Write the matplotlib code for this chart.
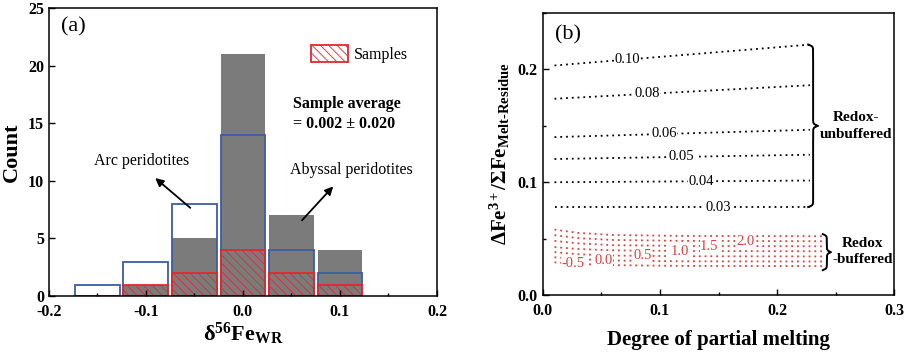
import matplotlib
matplotlib.use('Agg')
import matplotlib.pyplot as plt
import numpy as np
from matplotlib.patches import Patch
from matplotlib.ticker import MultipleLocator

plt.rcParams['font.family'] = ['Liberation Serif', 'DejaVu Serif']
plt.rcParams['mathtext.fontset'] = 'custom'
plt.rcParams['mathtext.rm'] = 'Liberation Serif'
plt.rcParams['mathtext.bf'] = 'Liberation Serif:bold'
plt.rcParams['mathtext.it'] = 'Liberation Serif:italic'
plt.rcParams['hatch.linewidth'] = 0.6

# ---- panel (a): histogram counts per bin centre ----
bin_centres = [-0.15, -0.10, -0.05, 0.0, 0.05, 0.10]
abyssal_counts = [0, 1, 5, 21, 7, 4]
arc_counts = [1, 3, 8, 14, 4, 2]
sample_counts = [0, 1, 2, 4, 2, 1]

# ---- panel (b): model curves ----
melt_x = [0.01, 0.228]
unbuf_labels = ['0.10', '0.08', '0.06', '0.05', '0.04', '0.03']
unbuf_start = [0.2035, 0.174, 0.140, 0.1206, 0.100, 0.078]
unbuf_end = [0.222, 0.186, 0.1465, 0.1244, 0.1015, 0.078]
unbuf_label_x = [0.072, 0.089, 0.1035, 0.1186, 0.135, 0.150]

buf_x = [0.01, 0.03, 0.06, 0.12, 0.24]
buf_labels = ['-0.5', '0.0', '0.5', '1.0', '1.5', '2.0', '']
buf_curves = [
    [0.0290, 0.0275, 0.0265, 0.0258, 0.0256],
    [0.0335, 0.0318, 0.0306, 0.0299, 0.0297],
    [0.0380, 0.0362, 0.0350, 0.0344, 0.0342],
    [0.0425, 0.0408, 0.0396, 0.0390, 0.0388],
    [0.0480, 0.0458, 0.0442, 0.0435, 0.0432],
    [0.0530, 0.0505, 0.0488, 0.0480, 0.0477],
    [0.0580, 0.0551, 0.0532, 0.0524, 0.0521],
]
buf_label_x = [0.026, 0.052, 0.085, 0.117, 0.142, 0.173, None]

GREY = '#7b7b7b'
BLUE = '#3b5ca6'
RED = '#e2282c'
BUF_RED = '#d9403c'


def draw_brace(ax, x0, y0, y1, width, ylim_span):
    """Draw a vertical curly brace opening to the left."""
    n = 401
    ys = np.linspace(y0, y1, n)
    half = ys[:n // 2 + 1]
    beta = 1300.0 * 0.25 / ylim_span
    off = (1 / (1 + np.exp(-beta * (half - half[0])))
           + 1 / (1 + np.exp(-beta * (half - half[-1]))))
    xs = np.concatenate((off, off[-2::-1])) - 0.5
    ax.plot(x0 + width * xs, ys, color='black', lw=1.4, clip_on=False)


def style_axes(ax):
    ax.tick_params(which='both', direction='in', top=False, right=False,
                   labelsize=11.5)
    ax.tick_params(which='major', length=4, width=1)
    ax.tick_params(which='minor', length=2.5, width=1)
    ax.tick_params(axis='x', pad=6)
    for label in ax.get_xticklabels() + ax.get_yticklabels():
        label.set_fontweight('bold')
    for s in ax.spines.values():
        s.set_linewidth(1.1)


fig = plt.figure(figsize=(9.2, 3.62), dpi=100)
ax1 = fig.add_axes([0.053, 0.182, 0.422, 0.796])
ax2 = fig.add_axes([0.590, 0.185, 0.382, 0.779])

# ---------- panel (a) ----------
w = 0.046
ax1.bar(bin_centres, abyssal_counts, width=w, color=GREY, edgecolor='none')
ax1.bar(bin_centres, arc_counts, width=w, facecolor='none',
        edgecolor=BLUE, linewidth=1.3)
ax1.bar(bin_centres, sample_counts, width=w, facecolor='none',
        edgecolor=RED, linewidth=1.3, hatch='\\\\\\\\')

ax1.set_xlim(-0.2, 0.2)
ax1.set_ylim(0, 25)
ax1.xaxis.set_major_locator(MultipleLocator(0.1))
ax1.xaxis.set_minor_locator(MultipleLocator(0.05))
ax1.yaxis.set_major_locator(MultipleLocator(5))
ax1.set_xticks([-0.2, -0.1, 0.0, 0.1, 0.2])
ax1.set_xticklabels(['-0.2', '-0.1', '0.0', '0.1', '0.2'])
style_axes(ax1)
ax1.set_ylabel('Count', fontsize=16, fontweight='bold', labelpad=4)
ax1.set_xlabel(r'δ$^{\mathbf{56}}$Fe$_{\mathbf{WR}}$', fontsize=16,
               fontweight='bold', labelpad=0)

ax1.text(-0.187, 23.4, '(a)', fontsize=16, va='center')
ax1.text(0.052, 15.8, 'Sample average\n= 0.002 ± 0.020', fontsize=11.5,
         fontweight='bold', va='center', linespacing=1.3)
ax1.text(-0.104, 11.7, 'Arc peridotites', fontsize=11.5, ha='center',
         va='center')
ax1.text(0.112, 10.9, 'Abyssal peridotites', fontsize=11.5, ha='center',
         va='center')
ax1.annotate('', xy=(-0.0925, 10.4), xytext=(-0.052, 7.5),
             arrowprops=dict(arrowstyle='-|>', color='black', lw=1.3,
                             mutation_scale=12))
ax1.annotate('', xy=(0.095, 9.7), xytext=(0.059, 6.4),
             arrowprops=dict(arrowstyle='-|>', color='black', lw=1.3,
                             mutation_scale=12))

handle = Patch(facecolor='white', edgecolor=RED, hatch='\\\\\\\\',
               linewidth=1.3)
ax1.legend([handle], ['Samples'], loc='center left',
           bbox_to_anchor=(0.675, 0.84), frameon=False, fontsize=11.5,
           handlelength=2.3, handleheight=1.2, borderaxespad=0,
           borderpad=0, handletextpad=0.4)

# ---------- panel (b) ----------
for lab, y_a, y_b, lx in zip(unbuf_labels, unbuf_start, unbuf_end,
                             unbuf_label_x):
    ax2.plot(melt_x, [y_a, y_b], color='black', lw=1.3,
             dashes=(1, 2.2))
    ly = np.interp(lx, melt_x, [y_a, y_b])
    ax2.text(lx, ly, lab, fontsize=10.5, ha='center', va='center',
             bbox=dict(facecolor='white', edgecolor='none', pad=0.3))

for lab, curve, lx in zip(buf_labels, buf_curves, buf_label_x):
    ax2.plot(buf_x, curve, color=BUF_RED, lw=1.3, dashes=(1, 2.2))
    if lx is not None:
        ly = np.interp(lx, buf_x, curve)
        ax2.text(lx, ly, lab, fontsize=10.5, ha='center', va='center',
                 color=BUF_RED,
                 bbox=dict(facecolor='white', edgecolor='none', pad=0.2))

ax2.set_xlim(0, 0.3)
ax2.set_ylim(0, 0.25)
ax2.set_xticks([0.0, 0.1, 0.2, 0.3])
ax2.xaxis.set_minor_locator(MultipleLocator(0.05))
ax2.set_yticks([0.0, 0.1, 0.2])
ax2.yaxis.set_minor_locator(MultipleLocator(0.05))
style_axes(ax2)
ax2.set_xlabel('Degree of partial melting', fontsize=15, fontweight='bold',
               labelpad=8)
ax2.set_ylabel(r'ΔFe$^{\mathbf{3+}}$/ΣFe$_{\mathbf{Melt\text{-}Residue}}$',
               fontsize=15, fontweight='bold', labelpad=4)

draw_brace(ax2, 0.2265, 0.078, 0.222, 0.0085, 0.25)
draw_brace(ax2, 0.2390, 0.022, 0.054, 0.0070, 0.25)
ax2.text(0.267, 0.150, 'Redox-\nunbuffered', fontsize=11, fontweight='bold',
         ha='center', va='center', linespacing=1.35)
ax2.text(0.273, 0.0385, 'Redox\n-buffered', fontsize=11, fontweight='bold',
         ha='center', va='center', linespacing=1.35)
ax2.text(0.010, 0.231, '(b)', fontsize=16, va='center')

fig.savefig('out.png', dpi=100)
